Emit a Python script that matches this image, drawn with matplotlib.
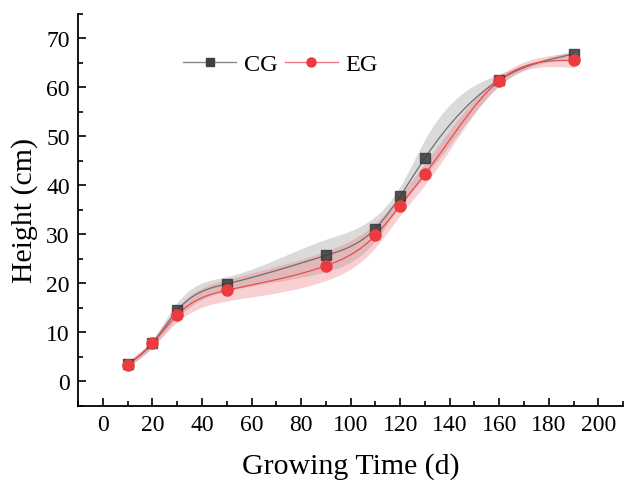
import numpy as np
import matplotlib
matplotlib.use('Agg')
import matplotlib.pyplot as plt
from matplotlib.ticker import MultipleLocator

plt.rcParams['font.family'] = ['Liberation Serif', 'DejaVu Serif']

days = [10, 20, 30, 50, 90, 110, 120, 130, 160, 190]
cg = [3.5, 7.8, 14.5, 19.9, 25.7, 31.2, 37.8, 45.6, 61.5, 66.8]
cg_sd = [0.6, 0.8, 1.6, 1.5, 3.3, 2.5, 2.0, 3.8, 1.2, 0.8]
eg = [3.4, 7.8, 13.6, 18.6, 23.6, 29.8, 35.9, 42.3, 61.4, 65.5]
eg_sd = [0.6, 0.8, 1.5, 2.2, 3.0, 2.5, 2.0, 2.2, 1.0, 1.5]


def spline(x, y, xs):
    # natural cubic spline, just for drawing the smooth line
    x = np.asarray(x, float)
    y = np.asarray(y, float)
    n = len(x)
    h = np.diff(x)
    A = np.zeros((n, n))
    b = np.zeros(n)
    A[0, 0] = 1
    A[-1, -1] = 1
    for i in range(1, n - 1):
        A[i, i - 1] = h[i - 1]
        A[i, i] = 2 * (h[i - 1] + h[i])
        A[i, i + 1] = h[i]
        b[i] = 3 * ((y[i + 1] - y[i]) / h[i] - (y[i] - y[i - 1]) / h[i - 1])
    c = np.linalg.solve(A, b)
    out = np.zeros_like(xs)
    for k, xv in enumerate(xs):
        i = min(max(np.searchsorted(x, xv) - 1, 0), n - 2)
        d = xv - x[i]
        bb = (y[i + 1] - y[i]) / h[i] - h[i] * (2 * c[i] + c[i + 1]) / 3
        dd = (c[i + 1] - c[i]) / (3 * h[i])
        out[k] = y[i] + bb * d + c[i] * d ** 2 + dd * d ** 3
    return out


xs = np.linspace(days[0], days[-1], 400)
cg_s = spline(days, cg, xs)
eg_s = spline(days, eg, xs)
cg_up = spline(days, np.array(cg) + np.array(cg_sd), xs)
cg_lo = spline(days, np.array(cg) - np.array(cg_sd), xs)
eg_up = spline(days, np.array(eg) + np.array(eg_sd), xs)
eg_lo = spline(days, np.array(eg) - np.array(eg_sd), xs)

fig = plt.figure(figsize=(6.25, 4.81), dpi=100)
ax = fig.add_axes([0.125, 0.154, 0.872, 0.815])

ax.fill_between(xs, cg_lo, cg_up, color='#bdbdbd', alpha=0.55, lw=0)
ax.fill_between(xs, eg_lo, eg_up, color='#f07a7e', alpha=0.35, lw=0)
ax.plot(xs, cg_s, color='#6e6e6e', lw=0.9)
ax.plot(xs, eg_s, color='#ec4a4e', lw=0.9)
ax.plot(days, cg, 's', color='#3a3a3a', ms=6.5, alpha=0.85)
ax.plot(days, eg, 'o', color='#ec3b40', ms=8)

h1, = ax.plot([], [], '-s', color='#8a8a8a', mfc='#404040', mec='#404040', ms=6, lw=1, label='CG')
h2, = ax.plot([], [], '-o', color='#f07a7e', mfc='#ec3b40', mec='#ec3b40', ms=6.5, lw=1, label='EG')
ax.legend(handles=[h1, h2], ncol=2, loc='center left', bbox_to_anchor=(0.152, 0.871),
          frameon=False, fontsize=17.5, handlelength=2.2, columnspacing=0.3, handletextpad=0.3)

ax.set_xlim(-10, 210)
ax.set_ylim(-5, 75)
ax.xaxis.set_major_locator(MultipleLocator(20))
ax.xaxis.set_minor_locator(MultipleLocator(10))
ax.yaxis.set_major_locator(MultipleLocator(10))
ax.yaxis.set_minor_locator(MultipleLocator(5))
ax.tick_params(which='both', direction='in', labelsize=17, width=1.2)
ax.tick_params(which='major', length=6, pad=6)
ax.tick_params(which='minor', length=3.5)
ax.spines['top'].set_visible(False)
ax.spines['right'].set_visible(False)
ax.spines['left'].set_linewidth(1.3)
ax.spines['bottom'].set_linewidth(1.3)
ax.set_xlabel('Growing Time (d)', fontsize=21.5, labelpad=12)
ax.set_ylabel('Height (cm)', fontsize=21.5, labelpad=6)

fig.savefig('out.png', dpi=100)
